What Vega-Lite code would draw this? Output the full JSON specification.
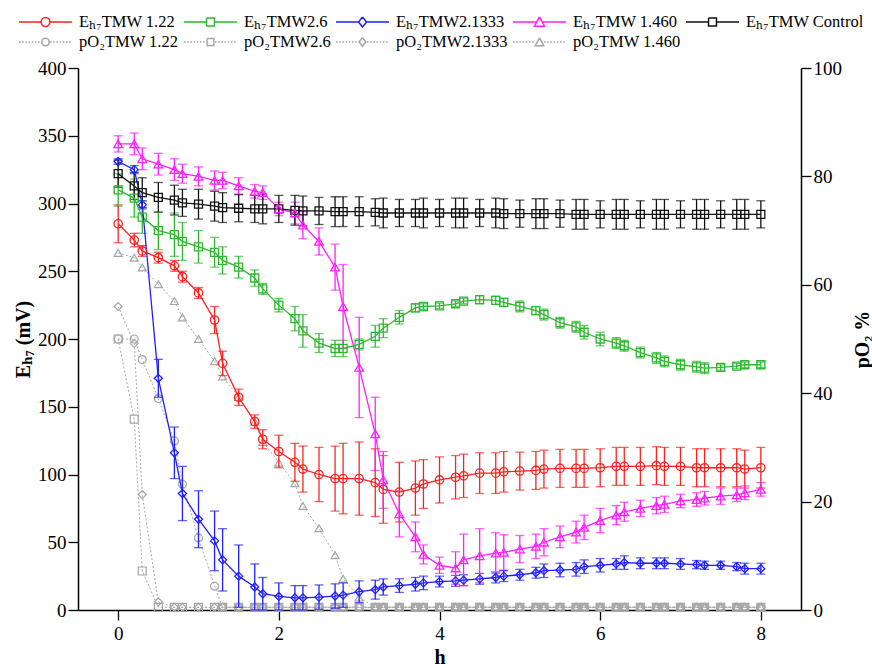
{
  "$schema": "https://vega.github.io/schema/vega-lite/v6.json",
  "width": 723,
  "height": 542,
  "autosize": "none",
  "padding": {"left": 78, "top": 68, "right": 71, "bottom": 58},
  "config": {
    "font": "'Liberation Serif', 'Times New Roman', 'Noto Serif', 'DejaVu Serif', serif",
    "view": {"stroke": null},
    "axis": {
      "labelFont": "'Liberation Serif', 'Times New Roman', 'Noto Serif', 'DejaVu Serif', serif", "labelFontSize": 19, "labelColor": "#000",
      "titleFont": "'Liberation Serif', 'Times New Roman', 'Noto Serif', 'DejaVu Serif', serif", "titleFontSize": 20, "titleFontWeight": "bold", "titleColor": "#000",
      "domainColor": "#000", "domainWidth": 1.5, "tickColor": "#000", "tickWidth": 1.3, "tickSize": 10,
      "labelPadding": 2, "grid": false
    },
    "legend": {
      "labelFont": "'Liberation Serif', 'Times New Roman', 'Noto Serif', 'DejaVu Serif', serif"
    }
  },
  "datasets": {
    "eh": [
      {"s":"Eₕ₇TMW 1.22","t":0,"v":285,"e":14},{"s":"Eₕ₇TMW 1.22","t":0.2,"v":273,"e":5},{"s":"Eₕ₇TMW 1.22","t":0.3,"v":265,"e":4},{"s":"Eₕ₇TMW 1.22","t":0.5,"v":260,"e":4},{"s":"Eₕ₇TMW 1.22","t":0.7,"v":254,"e":4},{"s":"Eₕ₇TMW 1.22","t":0.8,"v":246,"e":4},{"s":"Eₕ₇TMW 1.22","t":1,"v":234,"e":4},{"s":"Eₕ₇TMW 1.22","t":1.2,"v":214,"e":10},{"s":"Eₕ₇TMW 1.22","t":1.3,"v":182,"e":9},{"s":"Eₕ₇TMW 1.22","t":1.5,"v":157,"e":6},{"s":"Eₕ₇TMW 1.22","t":1.7,"v":139,"e":5},{"s":"Eₕ₇TMW 1.22","t":1.8,"v":126,"e":7},{"s":"Eₕ₇TMW 1.22","t":2,"v":117,"e":12},{"s":"Eₕ₇TMW 1.22","t":2.2,"v":109,"e":14},{"s":"Eₕ₇TMW 1.22","t":2.3,"v":104,"e":17},{"s":"Eₕ₇TMW 1.22","t":2.5,"v":100,"e":20},{"s":"Eₕ₇TMW 1.22","t":2.7,"v":97,"e":24},{"s":"Eₕ₇TMW 1.22","t":2.8,"v":97,"e":26},{"s":"Eₕ₇TMW 1.22","t":3,"v":97,"e":27},{"s":"Eₕ₇TMW 1.22","t":3.2,"v":94,"e":25},{"s":"Eₕ₇TMW 1.22","t":3.3,"v":89,"e":25},{"s":"Eₕ₇TMW 1.22","t":3.5,"v":87,"e":22},{"s":"Eₕ₇TMW 1.22","t":3.7,"v":90,"e":20},{"s":"Eₕ₇TMW 1.22","t":3.8,"v":93,"e":18},{"s":"Eₕ₇TMW 1.22","t":4,"v":96,"e":17},{"s":"Eₕ₇TMW 1.22","t":4.2,"v":98,"e":16},{"s":"Eₕ₇TMW 1.22","t":4.3,"v":99,"e":16},{"s":"Eₕ₇TMW 1.22","t":4.5,"v":101,"e":15},{"s":"Eₕ₇TMW 1.22","t":4.7,"v":101,"e":15},{"s":"Eₕ₇TMW 1.22","t":4.8,"v":102,"e":15},{"s":"Eₕ₇TMW 1.22","t":5,"v":102.5,"e":14},{"s":"Eₕ₇TMW 1.22","t":5.2,"v":103,"e":14},{"s":"Eₕ₇TMW 1.22","t":5.3,"v":104,"e":14},{"s":"Eₕ₇TMW 1.22","t":5.5,"v":104.5,"e":14},{"s":"Eₕ₇TMW 1.22","t":5.7,"v":104.5,"e":14},{"s":"Eₕ₇TMW 1.22","t":5.8,"v":104.5,"e":14},{"s":"Eₕ₇TMW 1.22","t":6,"v":105,"e":14},{"s":"Eₕ₇TMW 1.22","t":6.2,"v":106,"e":14},{"s":"Eₕ₇TMW 1.22","t":6.3,"v":106,"e":14},{"s":"Eₕ₇TMW 1.22","t":6.5,"v":106,"e":14},{"s":"Eₕ₇TMW 1.22","t":6.7,"v":106.5,"e":14},{"s":"Eₕ₇TMW 1.22","t":6.8,"v":106,"e":14},{"s":"Eₕ₇TMW 1.22","t":7,"v":106,"e":14},{"s":"Eₕ₇TMW 1.22","t":7.2,"v":105,"e":14},{"s":"Eₕ₇TMW 1.22","t":7.3,"v":105,"e":14},{"s":"Eₕ₇TMW 1.22","t":7.5,"v":105,"e":14},{"s":"Eₕ₇TMW 1.22","t":7.7,"v":105,"e":14},{"s":"Eₕ₇TMW 1.22","t":7.8,"v":104,"e":14},{"s":"Eₕ₇TMW 1.22","t":8,"v":105,"e":15},
      {"s":"Eₕ₇TMW2.6","t":0,"v":310,"e":12},{"s":"Eₕ₇TMW2.6","t":0.2,"v":304,"e":14},{"s":"Eₕ₇TMW2.6","t":0.3,"v":290,"e":12},{"s":"Eₕ₇TMW2.6","t":0.5,"v":280,"e":14},{"s":"Eₕ₇TMW2.6","t":0.7,"v":277,"e":16},{"s":"Eₕ₇TMW2.6","t":0.8,"v":272,"e":14},{"s":"Eₕ₇TMW2.6","t":1,"v":268,"e":12},{"s":"Eₕ₇TMW2.6","t":1.2,"v":264,"e":11},{"s":"Eₕ₇TMW2.6","t":1.3,"v":258,"e":10},{"s":"Eₕ₇TMW2.6","t":1.5,"v":253,"e":8},{"s":"Eₕ₇TMW2.6","t":1.7,"v":245,"e":6},{"s":"Eₕ₇TMW2.6","t":1.8,"v":237,"e":4},{"s":"Eₕ₇TMW2.6","t":2,"v":225,"e":5},{"s":"Eₕ₇TMW2.6","t":2.2,"v":215,"e":9},{"s":"Eₕ₇TMW2.6","t":2.3,"v":206,"e":12},{"s":"Eₕ₇TMW2.6","t":2.5,"v":197,"e":7},{"s":"Eₕ₇TMW2.6","t":2.7,"v":193,"e":6},{"s":"Eₕ₇TMW2.6","t":2.8,"v":193,"e":6},{"s":"Eₕ₇TMW2.6","t":3,"v":196,"e":4},{"s":"Eₕ₇TMW2.6","t":3.2,"v":202,"e":8},{"s":"Eₕ₇TMW2.6","t":3.3,"v":208,"e":7},{"s":"Eₕ₇TMW2.6","t":3.5,"v":216,"e":5},{"s":"Eₕ₇TMW2.6","t":3.7,"v":223,"e":3},{"s":"Eₕ₇TMW2.6","t":3.8,"v":224,"e":2},{"s":"Eₕ₇TMW2.6","t":4,"v":224.5,"e":2},{"s":"Eₕ₇TMW2.6","t":4.2,"v":226,"e":2},{"s":"Eₕ₇TMW2.6","t":4.3,"v":228,"e":2},{"s":"Eₕ₇TMW2.6","t":4.5,"v":229,"e":3},{"s":"Eₕ₇TMW2.6","t":4.7,"v":228.5,"e":3},{"s":"Eₕ₇TMW2.6","t":4.8,"v":227,"e":3},{"s":"Eₕ₇TMW2.6","t":5,"v":224,"e":4},{"s":"Eₕ₇TMW2.6","t":5.2,"v":221,"e":3},{"s":"Eₕ₇TMW2.6","t":5.3,"v":218,"e":4},{"s":"Eₕ₇TMW2.6","t":5.5,"v":212,"e":4},{"s":"Eₕ₇TMW2.6","t":5.7,"v":209,"e":4},{"s":"Eₕ₇TMW2.6","t":5.8,"v":205,"e":5},{"s":"Eₕ₇TMW2.6","t":6,"v":200,"e":5},{"s":"Eₕ₇TMW2.6","t":6.2,"v":197,"e":4},{"s":"Eₕ₇TMW2.6","t":6.3,"v":195,"e":4},{"s":"Eₕ₇TMW2.6","t":6.5,"v":190,"e":4},{"s":"Eₕ₇TMW2.6","t":6.7,"v":186,"e":4},{"s":"Eₕ₇TMW2.6","t":6.8,"v":183.5,"e":4},{"s":"Eₕ₇TMW2.6","t":7,"v":181,"e":4},{"s":"Eₕ₇TMW2.6","t":7.2,"v":179.5,"e":4},{"s":"Eₕ₇TMW2.6","t":7.3,"v":178.5,"e":4},{"s":"Eₕ₇TMW2.6","t":7.5,"v":179,"e":2},{"s":"Eₕ₇TMW2.6","t":7.7,"v":180,"e":2},{"s":"Eₕ₇TMW2.6","t":7.8,"v":181,"e":2},{"s":"Eₕ₇TMW2.6","t":8,"v":181,"e":2},
      {"s":"Eₕ₇TMW2.1333","t":0,"v":331,"e":2},{"s":"Eₕ₇TMW2.1333","t":0.2,"v":325,"e":3},{"s":"Eₕ₇TMW2.1333","t":0.3,"v":299,"e":3},{"s":"Eₕ₇TMW2.1333","t":0.5,"v":171,"e":14},{"s":"Eₕ₇TMW2.1333","t":0.7,"v":116,"e":19},{"s":"Eₕ₇TMW2.1333","t":0.8,"v":86,"e":20},{"s":"Eₕ₇TMW2.1333","t":1,"v":67,"e":21},{"s":"Eₕ₇TMW2.1333","t":1.2,"v":51,"e":22},{"s":"Eₕ₇TMW2.1333","t":1.3,"v":37,"e":23},{"s":"Eₕ₇TMW2.1333","t":1.5,"v":25,"e":23},{"s":"Eₕ₇TMW2.1333","t":1.7,"v":17,"e":17},{"s":"Eₕ₇TMW2.1333","t":1.8,"v":12,"e":12},{"s":"Eₕ₇TMW2.1333","t":2,"v":10,"e":10},{"s":"Eₕ₇TMW2.1333","t":2.2,"v":9,"e":9},{"s":"Eₕ₇TMW2.1333","t":2.3,"v":9,"e":9},{"s":"Eₕ₇TMW2.1333","t":2.5,"v":9.5,"e":9},{"s":"Eₕ₇TMW2.1333","t":2.7,"v":10.3,"e":9},{"s":"Eₕ₇TMW2.1333","t":2.8,"v":11,"e":9},{"s":"Eₕ₇TMW2.1333","t":3,"v":13.5,"e":8},{"s":"Eₕ₇TMW2.1333","t":3.2,"v":15,"e":7},{"s":"Eₕ₇TMW2.1333","t":3.3,"v":17,"e":6},{"s":"Eₕ₇TMW2.1333","t":3.5,"v":18,"e":5},{"s":"Eₕ₇TMW2.1333","t":3.7,"v":19,"e":5},{"s":"Eₕ₇TMW2.1333","t":3.8,"v":20,"e":5},{"s":"Eₕ₇TMW2.1333","t":4,"v":21,"e":4},{"s":"Eₕ₇TMW2.1333","t":4.2,"v":21.5,"e":4},{"s":"Eₕ₇TMW2.1333","t":4.3,"v":22,"e":4},{"s":"Eₕ₇TMW2.1333","t":4.5,"v":23,"e":4},{"s":"Eₕ₇TMW2.1333","t":4.7,"v":24,"e":4},{"s":"Eₕ₇TMW2.1333","t":4.8,"v":25,"e":4},{"s":"Eₕ₇TMW2.1333","t":5,"v":26,"e":4},{"s":"Eₕ₇TMW2.1333","t":5.2,"v":27.5,"e":4},{"s":"Eₕ₇TMW2.1333","t":5.3,"v":29,"e":5},{"s":"Eₕ₇TMW2.1333","t":5.5,"v":29.5,"e":5},{"s":"Eₕ₇TMW2.1333","t":5.7,"v":30,"e":5},{"s":"Eₕ₇TMW2.1333","t":5.8,"v":32,"e":5},{"s":"Eₕ₇TMW2.1333","t":6,"v":33,"e":5},{"s":"Eₕ₇TMW2.1333","t":6.2,"v":34,"e":4},{"s":"Eₕ₇TMW2.1333","t":6.3,"v":35,"e":5},{"s":"Eₕ₇TMW2.1333","t":6.5,"v":34.5,"e":4},{"s":"Eₕ₇TMW2.1333","t":6.7,"v":34.5,"e":4},{"s":"Eₕ₇TMW2.1333","t":6.8,"v":34.5,"e":4},{"s":"Eₕ₇TMW2.1333","t":7,"v":34,"e":4},{"s":"Eₕ₇TMW2.1333","t":7.2,"v":33.5,"e":3},{"s":"Eₕ₇TMW2.1333","t":7.3,"v":33,"e":3},{"s":"Eₕ₇TMW2.1333","t":7.5,"v":33,"e":3},{"s":"Eₕ₇TMW2.1333","t":7.7,"v":32,"e":3},{"s":"Eₕ₇TMW2.1333","t":7.8,"v":30.5,"e":4},{"s":"Eₕ₇TMW2.1333","t":8,"v":30.5,"e":4},
      {"s":"Eₕ₇TMW 1.460","t":0,"v":344,"e":6},{"s":"Eₕ₇TMW 1.460","t":0.2,"v":344,"e":8},{"s":"Eₕ₇TMW 1.460","t":0.3,"v":333,"e":8},{"s":"Eₕ₇TMW 1.460","t":0.5,"v":329,"e":8},{"s":"Eₕ₇TMW 1.460","t":0.7,"v":325,"e":8},{"s":"Eₕ₇TMW 1.460","t":0.8,"v":322,"e":7},{"s":"Eₕ₇TMW 1.460","t":1,"v":320,"e":7},{"s":"Eₕ₇TMW 1.460","t":1.2,"v":317,"e":7},{"s":"Eₕ₇TMW 1.460","t":1.3,"v":317,"e":6},{"s":"Eₕ₇TMW 1.460","t":1.5,"v":313,"e":6},{"s":"Eₕ₇TMW 1.460","t":1.7,"v":309,"e":5},{"s":"Eₕ₇TMW 1.460","t":1.8,"v":308,"e":5},{"s":"Eₕ₇TMW 1.460","t":2,"v":296,"e":5},{"s":"Eₕ₇TMW 1.460","t":2.2,"v":293,"e":8},{"s":"Eₕ₇TMW 1.460","t":2.3,"v":284,"e":10},{"s":"Eₕ₇TMW 1.460","t":2.5,"v":272,"e":10},{"s":"Eₕ₇TMW 1.460","t":2.7,"v":253,"e":17},{"s":"Eₕ₇TMW 1.460","t":2.8,"v":224,"e":31},{"s":"Eₕ₇TMW 1.460","t":3,"v":179,"e":37},{"s":"Eₕ₇TMW 1.460","t":3.2,"v":130,"e":27},{"s":"Eₕ₇TMW 1.460","t":3.3,"v":96,"e":21},{"s":"Eₕ₇TMW 1.460","t":3.5,"v":71,"e":17},{"s":"Eₕ₇TMW 1.460","t":3.7,"v":54,"e":11},{"s":"Eₕ₇TMW 1.460","t":3.8,"v":41,"e":7},{"s":"Eₕ₇TMW 1.460","t":4,"v":33,"e":6},{"s":"Eₕ₇TMW 1.460","t":4.2,"v":31,"e":12},{"s":"Eₕ₇TMW 1.460","t":4.3,"v":37,"e":19},{"s":"Eₕ₇TMW 1.460","t":4.5,"v":40,"e":20},{"s":"Eₕ₇TMW 1.460","t":4.7,"v":42,"e":15},{"s":"Eₕ₇TMW 1.460","t":4.8,"v":42.5,"e":13},{"s":"Eₕ₇TMW 1.460","t":5,"v":45,"e":10},{"s":"Eₕ₇TMW 1.460","t":5.2,"v":47,"e":9},{"s":"Eₕ₇TMW 1.460","t":5.3,"v":50,"e":10},{"s":"Eₕ₇TMW 1.460","t":5.5,"v":54,"e":8},{"s":"Eₕ₇TMW 1.460","t":5.7,"v":57.5,"e":8},{"s":"Eₕ₇TMW 1.460","t":5.8,"v":61,"e":9},{"s":"Eₕ₇TMW 1.460","t":6,"v":66,"e":9},{"s":"Eₕ₇TMW 1.460","t":6.2,"v":70,"e":7},{"s":"Eₕ₇TMW 1.460","t":6.3,"v":72.5,"e":7},{"s":"Eₕ₇TMW 1.460","t":6.5,"v":75,"e":6},{"s":"Eₕ₇TMW 1.460","t":6.7,"v":77,"e":6},{"s":"Eₕ₇TMW 1.460","t":6.8,"v":78,"e":6},{"s":"Eₕ₇TMW 1.460","t":7,"v":80.5,"e":5},{"s":"Eₕ₇TMW 1.460","t":7.2,"v":81.5,"e":5},{"s":"Eₕ₇TMW 1.460","t":7.3,"v":82.5,"e":5},{"s":"Eₕ₇TMW 1.460","t":7.5,"v":84,"e":6},{"s":"Eₕ₇TMW 1.460","t":7.7,"v":85,"e":5},{"s":"Eₕ₇TMW 1.460","t":7.8,"v":86.5,"e":5},{"s":"Eₕ₇TMW 1.460","t":8,"v":89,"e":5},
      {"s":"Eₕ₇TMW Control","t":0,"v":322,"e":10},{"s":"Eₕ₇TMW Control","t":0.2,"v":313,"e":10},{"s":"Eₕ₇TMW Control","t":0.3,"v":308,"e":11},{"s":"Eₕ₇TMW Control","t":0.5,"v":304.5,"e":11},{"s":"Eₕ₇TMW Control","t":0.7,"v":302.5,"e":11},{"s":"Eₕ₇TMW Control","t":0.8,"v":300.5,"e":10},{"s":"Eₕ₇TMW Control","t":1,"v":299.5,"e":11},{"s":"Eₕ₇TMW Control","t":1.2,"v":298,"e":11},{"s":"Eₕ₇TMW Control","t":1.3,"v":297,"e":11},{"s":"Eₕ₇TMW Control","t":1.5,"v":296.5,"e":10},{"s":"Eₕ₇TMW Control","t":1.7,"v":296,"e":10},{"s":"Eₕ₇TMW Control","t":1.8,"v":296,"e":11},{"s":"Eₕ₇TMW Control","t":2,"v":296,"e":10},{"s":"Eₕ₇TMW Control","t":2.2,"v":295,"e":11},{"s":"Eₕ₇TMW Control","t":2.3,"v":294.5,"e":11},{"s":"Eₕ₇TMW Control","t":2.5,"v":294.5,"e":10},{"s":"Eₕ₇TMW Control","t":2.7,"v":294,"e":11},{"s":"Eₕ₇TMW Control","t":2.8,"v":294,"e":11},{"s":"Eₕ₇TMW Control","t":3,"v":294,"e":11},{"s":"Eₕ₇TMW Control","t":3.2,"v":293.5,"e":10},{"s":"Eₕ₇TMW Control","t":3.3,"v":293,"e":11},{"s":"Eₕ₇TMW Control","t":3.5,"v":293,"e":10},{"s":"Eₕ₇TMW Control","t":3.7,"v":293,"e":10},{"s":"Eₕ₇TMW Control","t":3.8,"v":293,"e":11},{"s":"Eₕ₇TMW Control","t":4,"v":293,"e":10},{"s":"Eₕ₇TMW Control","t":4.2,"v":293,"e":11},{"s":"Eₕ₇TMW Control","t":4.3,"v":293,"e":11},{"s":"Eₕ₇TMW Control","t":4.5,"v":293,"e":10},{"s":"Eₕ₇TMW Control","t":4.7,"v":293,"e":11},{"s":"Eₕ₇TMW Control","t":4.8,"v":292.5,"e":11},{"s":"Eₕ₇TMW Control","t":5,"v":292.5,"e":10},{"s":"Eₕ₇TMW Control","t":5.2,"v":292.5,"e":11},{"s":"Eₕ₇TMW Control","t":5.3,"v":292.5,"e":11},{"s":"Eₕ₇TMW Control","t":5.5,"v":292.5,"e":10},{"s":"Eₕ₇TMW Control","t":5.7,"v":292,"e":11},{"s":"Eₕ₇TMW Control","t":5.8,"v":292,"e":11},{"s":"Eₕ₇TMW Control","t":6,"v":292,"e":10},{"s":"Eₕ₇TMW Control","t":6.2,"v":292,"e":11},{"s":"Eₕ₇TMW Control","t":6.3,"v":292,"e":11},{"s":"Eₕ₇TMW Control","t":6.5,"v":292,"e":10},{"s":"Eₕ₇TMW Control","t":6.7,"v":292,"e":11},{"s":"Eₕ₇TMW Control","t":6.8,"v":292,"e":11},{"s":"Eₕ₇TMW Control","t":7,"v":292,"e":10},{"s":"Eₕ₇TMW Control","t":7.2,"v":292,"e":11},{"s":"Eₕ₇TMW Control","t":7.3,"v":292,"e":11},{"s":"Eₕ₇TMW Control","t":7.5,"v":292,"e":10},{"s":"Eₕ₇TMW Control","t":7.7,"v":292,"e":11},{"s":"Eₕ₇TMW Control","t":7.8,"v":292,"e":11},{"s":"Eₕ₇TMW Control","t":8,"v":292,"e":10}
    ],
    "po": [
      {"s":"pO₂TMW 1.22","t":0,"p":50},{"s":"pO₂TMW 1.22","t":0.2,"p":50},{"s":"pO₂TMW 1.22","t":0.3,"p":46.2},{"s":"pO₂TMW 1.22","t":0.5,"p":39},{"s":"pO₂TMW 1.22","t":0.7,"p":31.2},{"s":"pO₂TMW 1.22","t":0.8,"p":23.2},{"s":"pO₂TMW 1.22","t":1,"p":13.3},{"s":"pO₂TMW 1.22","t":1.2,"p":4.4},{"s":"pO₂TMW 1.22","t":1.3,"p":0.5},{"s":"pO₂TMW 1.22","t":1.5,"p":0.5},{"s":"pO₂TMW 1.22","t":1.7,"p":0.5},{"s":"pO₂TMW 1.22","t":1.8,"p":0.5},{"s":"pO₂TMW 1.22","t":2,"p":0.5},{"s":"pO₂TMW 1.22","t":2.2,"p":0.5},{"s":"pO₂TMW 1.22","t":2.3,"p":0.5},{"s":"pO₂TMW 1.22","t":2.5,"p":0.5},{"s":"pO₂TMW 1.22","t":2.7,"p":0.5},{"s":"pO₂TMW 1.22","t":2.8,"p":0.5},{"s":"pO₂TMW 1.22","t":3,"p":0.5},{"s":"pO₂TMW 1.22","t":3.2,"p":0.5},{"s":"pO₂TMW 1.22","t":3.3,"p":0.5},{"s":"pO₂TMW 1.22","t":3.5,"p":0.5},{"s":"pO₂TMW 1.22","t":3.7,"p":0.5},{"s":"pO₂TMW 1.22","t":3.8,"p":0.5},{"s":"pO₂TMW 1.22","t":4,"p":0.5},{"s":"pO₂TMW 1.22","t":4.2,"p":0.5},{"s":"pO₂TMW 1.22","t":4.3,"p":0.5},{"s":"pO₂TMW 1.22","t":4.5,"p":0.5},{"s":"pO₂TMW 1.22","t":4.7,"p":0.5},{"s":"pO₂TMW 1.22","t":4.8,"p":0.5},{"s":"pO₂TMW 1.22","t":5,"p":0.5},{"s":"pO₂TMW 1.22","t":5.2,"p":0.5},{"s":"pO₂TMW 1.22","t":5.3,"p":0.5},{"s":"pO₂TMW 1.22","t":5.5,"p":0.5},{"s":"pO₂TMW 1.22","t":5.7,"p":0.5},{"s":"pO₂TMW 1.22","t":5.8,"p":0.5},{"s":"pO₂TMW 1.22","t":6,"p":0.5},{"s":"pO₂TMW 1.22","t":6.2,"p":0.5},{"s":"pO₂TMW 1.22","t":6.3,"p":0.5},{"s":"pO₂TMW 1.22","t":6.5,"p":0.5},{"s":"pO₂TMW 1.22","t":6.7,"p":0.5},{"s":"pO₂TMW 1.22","t":6.8,"p":0.5},{"s":"pO₂TMW 1.22","t":7,"p":0.5},{"s":"pO₂TMW 1.22","t":7.2,"p":0.5},{"s":"pO₂TMW 1.22","t":7.3,"p":0.5},{"s":"pO₂TMW 1.22","t":7.5,"p":0.5},{"s":"pO₂TMW 1.22","t":7.7,"p":0.5},{"s":"pO₂TMW 1.22","t":7.8,"p":0.5},{"s":"pO₂TMW 1.22","t":8,"p":0.5},
      {"s":"pO₂TMW2.6","t":0,"p":50},{"s":"pO₂TMW2.6","t":0.2,"p":35.2},{"s":"pO₂TMW2.6","t":0.3,"p":7.2},{"s":"pO₂TMW2.6","t":0.5,"p":0.5},{"s":"pO₂TMW2.6","t":0.7,"p":0.5},{"s":"pO₂TMW2.6","t":0.8,"p":0.5},{"s":"pO₂TMW2.6","t":1,"p":0.5},{"s":"pO₂TMW2.6","t":1.2,"p":0.5},{"s":"pO₂TMW2.6","t":1.3,"p":0.5},{"s":"pO₂TMW2.6","t":1.5,"p":0.5},{"s":"pO₂TMW2.6","t":1.7,"p":0.5},{"s":"pO₂TMW2.6","t":1.8,"p":0.5},{"s":"pO₂TMW2.6","t":2,"p":0.5},{"s":"pO₂TMW2.6","t":2.2,"p":0.5},{"s":"pO₂TMW2.6","t":2.3,"p":0.5},{"s":"pO₂TMW2.6","t":2.5,"p":0.5},{"s":"pO₂TMW2.6","t":2.7,"p":0.5},{"s":"pO₂TMW2.6","t":2.8,"p":0.5},{"s":"pO₂TMW2.6","t":3,"p":0.5},{"s":"pO₂TMW2.6","t":3.2,"p":0.5},{"s":"pO₂TMW2.6","t":3.3,"p":0.5},{"s":"pO₂TMW2.6","t":3.5,"p":0.5},{"s":"pO₂TMW2.6","t":3.7,"p":0.5},{"s":"pO₂TMW2.6","t":3.8,"p":0.5},{"s":"pO₂TMW2.6","t":4,"p":0.5},{"s":"pO₂TMW2.6","t":4.2,"p":0.5},{"s":"pO₂TMW2.6","t":4.3,"p":0.5},{"s":"pO₂TMW2.6","t":4.5,"p":0.5},{"s":"pO₂TMW2.6","t":4.7,"p":0.5},{"s":"pO₂TMW2.6","t":4.8,"p":0.5},{"s":"pO₂TMW2.6","t":5,"p":0.5},{"s":"pO₂TMW2.6","t":5.2,"p":0.5},{"s":"pO₂TMW2.6","t":5.3,"p":0.5},{"s":"pO₂TMW2.6","t":5.5,"p":0.5},{"s":"pO₂TMW2.6","t":5.7,"p":0.5},{"s":"pO₂TMW2.6","t":5.8,"p":0.5},{"s":"pO₂TMW2.6","t":6,"p":0.5},{"s":"pO₂TMW2.6","t":6.2,"p":0.5},{"s":"pO₂TMW2.6","t":6.3,"p":0.5},{"s":"pO₂TMW2.6","t":6.5,"p":0.5},{"s":"pO₂TMW2.6","t":6.7,"p":0.5},{"s":"pO₂TMW2.6","t":6.8,"p":0.5},{"s":"pO₂TMW2.6","t":7,"p":0.5},{"s":"pO₂TMW2.6","t":7.2,"p":0.5},{"s":"pO₂TMW2.6","t":7.3,"p":0.5},{"s":"pO₂TMW2.6","t":7.5,"p":0.5},{"s":"pO₂TMW2.6","t":7.7,"p":0.5},{"s":"pO₂TMW2.6","t":7.8,"p":0.5},{"s":"pO₂TMW2.6","t":8,"p":0.5},
      {"s":"pO₂TMW2.1333","t":0,"p":56},{"s":"pO₂TMW2.1333","t":0.2,"p":49.2},{"s":"pO₂TMW2.1333","t":0.3,"p":21.3},{"s":"pO₂TMW2.1333","t":0.5,"p":1.5},{"s":"pO₂TMW2.1333","t":0.7,"p":0.5},{"s":"pO₂TMW2.1333","t":0.8,"p":0.5},{"s":"pO₂TMW2.1333","t":1,"p":0.5},{"s":"pO₂TMW2.1333","t":1.2,"p":0.5},{"s":"pO₂TMW2.1333","t":1.3,"p":0.5},{"s":"pO₂TMW2.1333","t":1.5,"p":0.5},{"s":"pO₂TMW2.1333","t":1.7,"p":0.5},{"s":"pO₂TMW2.1333","t":1.8,"p":0.5},{"s":"pO₂TMW2.1333","t":2,"p":0.5},{"s":"pO₂TMW2.1333","t":2.2,"p":0.5},{"s":"pO₂TMW2.1333","t":2.3,"p":0.5},{"s":"pO₂TMW2.1333","t":2.5,"p":0.5},{"s":"pO₂TMW2.1333","t":2.7,"p":0.5},{"s":"pO₂TMW2.1333","t":2.8,"p":0.5},{"s":"pO₂TMW2.1333","t":3,"p":0.5},{"s":"pO₂TMW2.1333","t":3.2,"p":0.5},{"s":"pO₂TMW2.1333","t":3.3,"p":0.5},{"s":"pO₂TMW2.1333","t":3.5,"p":0.5},{"s":"pO₂TMW2.1333","t":3.7,"p":0.5},{"s":"pO₂TMW2.1333","t":3.8,"p":0.5},{"s":"pO₂TMW2.1333","t":4,"p":0.5},{"s":"pO₂TMW2.1333","t":4.2,"p":0.5},{"s":"pO₂TMW2.1333","t":4.3,"p":0.5},{"s":"pO₂TMW2.1333","t":4.5,"p":0.5},{"s":"pO₂TMW2.1333","t":4.7,"p":0.5},{"s":"pO₂TMW2.1333","t":4.8,"p":0.5},{"s":"pO₂TMW2.1333","t":5,"p":0.5},{"s":"pO₂TMW2.1333","t":5.2,"p":0.5},{"s":"pO₂TMW2.1333","t":5.3,"p":0.5},{"s":"pO₂TMW2.1333","t":5.5,"p":0.5},{"s":"pO₂TMW2.1333","t":5.7,"p":0.5},{"s":"pO₂TMW2.1333","t":5.8,"p":0.5},{"s":"pO₂TMW2.1333","t":6,"p":0.5},{"s":"pO₂TMW2.1333","t":6.2,"p":0.5},{"s":"pO₂TMW2.1333","t":6.3,"p":0.5},{"s":"pO₂TMW2.1333","t":6.5,"p":0.5},{"s":"pO₂TMW2.1333","t":6.7,"p":0.5},{"s":"pO₂TMW2.1333","t":6.8,"p":0.5},{"s":"pO₂TMW2.1333","t":7,"p":0.5},{"s":"pO₂TMW2.1333","t":7.2,"p":0.5},{"s":"pO₂TMW2.1333","t":7.3,"p":0.5},{"s":"pO₂TMW2.1333","t":7.5,"p":0.5},{"s":"pO₂TMW2.1333","t":7.7,"p":0.5},{"s":"pO₂TMW2.1333","t":7.8,"p":0.5},{"s":"pO₂TMW2.1333","t":8,"p":0.5},
      {"s":"pO₂TMW 1.460","t":0,"p":65.9},{"s":"pO₂TMW 1.460","t":0.2,"p":65},{"s":"pO₂TMW 1.460","t":0.3,"p":63.2},{"s":"pO₂TMW 1.460","t":0.5,"p":60.1},{"s":"pO₂TMW 1.460","t":0.7,"p":57},{"s":"pO₂TMW 1.460","t":0.8,"p":54},{"s":"pO₂TMW 1.460","t":1,"p":50},{"s":"pO₂TMW 1.460","t":1.2,"p":45.9},{"s":"pO₂TMW 1.460","t":1.3,"p":43.1},{"s":"pO₂TMW 1.460","t":1.5,"p":39.3},{"s":"pO₂TMW 1.460","t":1.7,"p":34.7},{"s":"pO₂TMW 1.460","t":1.8,"p":31},{"s":"pO₂TMW 1.460","t":2,"p":27.2},{"s":"pO₂TMW 1.460","t":2.2,"p":23.4},{"s":"pO₂TMW 1.460","t":2.3,"p":19.2},{"s":"pO₂TMW 1.460","t":2.5,"p":15.1},{"s":"pO₂TMW 1.460","t":2.7,"p":10.1},{"s":"pO₂TMW 1.460","t":2.8,"p":5.8},{"s":"pO₂TMW 1.460","t":3,"p":2.3},{"s":"pO₂TMW 1.460","t":3.2,"p":0.5},{"s":"pO₂TMW 1.460","t":3.3,"p":0.5},{"s":"pO₂TMW 1.460","t":3.5,"p":0.5},{"s":"pO₂TMW 1.460","t":3.7,"p":0.5},{"s":"pO₂TMW 1.460","t":3.8,"p":0.5},{"s":"pO₂TMW 1.460","t":4,"p":0.5},{"s":"pO₂TMW 1.460","t":4.2,"p":0.5},{"s":"pO₂TMW 1.460","t":4.3,"p":0.5},{"s":"pO₂TMW 1.460","t":4.5,"p":0.5},{"s":"pO₂TMW 1.460","t":4.7,"p":0.5},{"s":"pO₂TMW 1.460","t":4.8,"p":0.5},{"s":"pO₂TMW 1.460","t":5,"p":0.5},{"s":"pO₂TMW 1.460","t":5.2,"p":0.5},{"s":"pO₂TMW 1.460","t":5.3,"p":0.5},{"s":"pO₂TMW 1.460","t":5.5,"p":0.5},{"s":"pO₂TMW 1.460","t":5.7,"p":0.5},{"s":"pO₂TMW 1.460","t":5.8,"p":0.5},{"s":"pO₂TMW 1.460","t":6,"p":0.5},{"s":"pO₂TMW 1.460","t":6.2,"p":0.5},{"s":"pO₂TMW 1.460","t":6.3,"p":0.5},{"s":"pO₂TMW 1.460","t":6.5,"p":0.5},{"s":"pO₂TMW 1.460","t":6.7,"p":0.5},{"s":"pO₂TMW 1.460","t":6.8,"p":0.5},{"s":"pO₂TMW 1.460","t":7,"p":0.5},{"s":"pO₂TMW 1.460","t":7.2,"p":0.5},{"s":"pO₂TMW 1.460","t":7.3,"p":0.5},{"s":"pO₂TMW 1.460","t":7.5,"p":0.5},{"s":"pO₂TMW 1.460","t":7.7,"p":0.5},{"s":"pO₂TMW 1.460","t":7.8,"p":0.5},{"s":"pO₂TMW 1.460","t":8,"p":0.5}
    ]
  },
  "layer": [
    {
      "data": {"name": "po"},
      "encoding": {
        "x": {"field": "t", "type": "quantitative", "scale": {"domain": [-0.5, 8.5], "nice": false}, "axis": {"values": [0, 2, 4, 6, 8], "title": "h", "labelPadding": 4, "titlePadding": 4}},
        "y": {"field": "p", "type": "quantitative", "scale": {"domain": [0, 100], "nice": false}, "axis": {"orient": "right", "values": [0, 20, 40, 60, 80, 100], "title": "pO₂ %", "titleAngle": 270, "labelPadding": 2, "titlePadding": 31}},
        "color": {
          "field": "s", "type": "nominal",
          "scale": {"domain": ["Eₕ₇TMW 1.22", "Eₕ₇TMW2.6", "Eₕ₇TMW2.1333", "Eₕ₇TMW 1.460", "Eₕ₇TMW Control", "pO₂TMW 1.22", "pO₂TMW2.6", "pO₂TMW2.1333", "pO₂TMW 1.460"], "range": ["#ff1f1f", "#2eb82e", "#1f1fff", "#ff1fff", "#111111", "#a6a6a6", "#a6a6a6", "#a6a6a6", "#a6a6a6"]},
          "legend": {
            "orient": "none", "legendX": -60, "legendY": -54, "direction": "horizontal", "columns": 5, "gridAlign": "none", "title": null,
            "labelFontSize": 16.5, "labelColor": "#000", "labelLimit": 0,
            "symbolSize": 2809, "symbolOffset": 0, "labelOffset": 6, "columnPadding": 4, "rowPadding": 3, "padding": 0, "clipHeight": 16,
            "symbolFillColor": "transparent", "symbolStrokeWidth": 1.5, "symbolOpacity": 1,
            "symbolType": {"expr": "['M-1,0H-0.166M0.166,0H1M-0.166,0A0.166,0.166,0,1,0,0.166,0A0.166,0.166,0,1,0,-0.166,0A0.166,0.166,0,1,1,0.166,0A0.166,0.166,0,1,1,-0.166,0','M-1,0H-0.15M0.15,0H1M-0.15,-0.15H0.15V0.15H-0.15V-0.15V0.15H0.15V-0.15H-0.15','M-1,0H-0.15M0.15,0H1M0,-0.19L0.15,0L0,0.19L-0.15,0L0,-0.19L-0.15,0L0,0.19L0.15,0L0,-0.19','M-1,0H-0.1M0.1,0H1M0,-0.19L0.19,0.16L-0.19,0.16L0,-0.19L-0.19,0.16L0.19,0.16L0,-0.19','M-1,0H-0.15M0.15,0H1M-0.15,-0.15H0.15V0.15H-0.15V-0.15V0.15H0.15V-0.15H-0.15','M-1,0h0.06m0.06,0h0.06m0.06,0h0.06m0.06,0h0.06m0.06,0h0.06m0.06,0h0.06m0.06,0h0.06M0.17,0h0.06m0.06,0h0.06m0.06,0h0.06m0.06,0h0.06m0.06,0h0.06m0.06,0h0.06m0.06,0h0.06M-0.14,0A0.14,0.14,0,1,0,0.14,0A0.14,0.14,0,1,0,-0.14,0A0.14,0.14,0,1,1,0.14,0A0.14,0.14,0,1,1,-0.14,0','M-1,0h0.06m0.06,0h0.06m0.06,0h0.06m0.06,0h0.06m0.06,0h0.06m0.06,0h0.06m0.06,0h0.06M0.17,0h0.06m0.06,0h0.06m0.06,0h0.06m0.06,0h0.06m0.06,0h0.06m0.06,0h0.06m0.06,0h0.06M-0.13,-0.13H0.13V0.13H-0.13V-0.13V0.13H0.13V-0.13H-0.13','M-1,0h0.06m0.06,0h0.06m0.06,0h0.06m0.06,0h0.06m0.06,0h0.06m0.06,0h0.06m0.06,0h0.06M0.17,0h0.06m0.06,0h0.06m0.06,0h0.06m0.06,0h0.06m0.06,0h0.06m0.06,0h0.06m0.06,0h0.06M0,-0.16L0.13,0L0,0.16L-0.13,0L0,-0.16L-0.13,0L0,0.16L0.13,0L0,-0.16','M-1,0h0.06m0.06,0h0.06m0.06,0h0.06m0.06,0h0.06m0.06,0h0.06m0.06,0h0.06m0.06,0h0.06M0.17,0h0.06m0.06,0h0.06m0.06,0h0.06m0.06,0h0.06m0.06,0h0.06m0.06,0h0.06m0.06,0h0.06M0,-0.16L0.16,0.14L-0.16,0.14L0,-0.16L-0.16,0.14L0.16,0.14L0,-0.16'][datum.index]"}
          }
        }
      },
      "layer": [
        {"mark": {"type": "line", "strokeWidth": 1, "strokeDash": [2, 2]}, "encoding": {}},
        {"transform": [{"filter": {"field": "s", "equal": "pO₂TMW 1.22"}}], "mark": {"type": "point", "shape": "circle", "filled": false, "size": 64, "strokeWidth": 1.2, "opacity": 1}},
        {"transform": [{"filter": {"field": "s", "equal": "pO₂TMW2.6"}}], "mark": {"type": "point", "shape": "square", "filled": false, "size": 64, "strokeWidth": 1.2, "opacity": 1}},
        {"transform": [{"filter": {"field": "s", "equal": "pO₂TMW2.1333"}}], "mark": {"type": "point", "shape": "diamond", "filled": false, "size": 64, "strokeWidth": 1.2, "opacity": 1}},
        {"transform": [{"filter": {"field": "s", "equal": "pO₂TMW 1.460"}}], "mark": {"type": "point", "shape": "triangle-up", "filled": false, "size": 64, "strokeWidth": 1.2, "opacity": 1}}
      ]
    },
    {
      "data": {"name": "eh"},
      "encoding": {
        "x": {"field": "t", "type": "quantitative", "scale": {"domain": [-0.5, 8.5], "nice": false}, "axis": {"values": [0, 2, 4, 6, 8], "title": "h", "labelPadding": 4, "titlePadding": 4}},
        "y": {"field": "v", "type": "quantitative", "scale": {"domain": [0, 400], "nice": false}, "axis": {"orient": "left", "values": [0, 50, 100, 150, 200, 250, 300, 350, 400], "title": "Eₕ₇ (mV)", "labelPadding": 2}},
        "color": {
          "field": "s", "type": "nominal",
          "scale": {"domain": ["Eₕ₇TMW 1.22", "Eₕ₇TMW2.6", "Eₕ₇TMW2.1333", "Eₕ₇TMW 1.460", "Eₕ₇TMW Control", "pO₂TMW 1.22", "pO₂TMW2.6", "pO₂TMW2.1333", "pO₂TMW 1.460"], "range": ["#ff1f1f", "#2eb82e", "#1f1fff", "#ff1fff", "#111111", "#a6a6a6", "#a6a6a6", "#a6a6a6", "#a6a6a6"]},
          "legend": {
            "orient": "none", "legendX": -60, "legendY": -54, "direction": "horizontal", "columns": 5, "gridAlign": "none", "title": null,
            "labelFontSize": 16.5, "labelColor": "#000", "labelLimit": 0,
            "symbolSize": 2809, "symbolOffset": 0, "labelOffset": 6, "columnPadding": 4, "rowPadding": 3, "padding": 0, "clipHeight": 16,
            "symbolFillColor": "transparent", "symbolStrokeWidth": 1.5, "symbolOpacity": 1,
            "symbolType": {"expr": "['M-1,0H-0.166M0.166,0H1M-0.166,0A0.166,0.166,0,1,0,0.166,0A0.166,0.166,0,1,0,-0.166,0A0.166,0.166,0,1,1,0.166,0A0.166,0.166,0,1,1,-0.166,0','M-1,0H-0.15M0.15,0H1M-0.15,-0.15H0.15V0.15H-0.15V-0.15V0.15H0.15V-0.15H-0.15','M-1,0H-0.15M0.15,0H1M0,-0.19L0.15,0L0,0.19L-0.15,0L0,-0.19L-0.15,0L0,0.19L0.15,0L0,-0.19','M-1,0H-0.1M0.1,0H1M0,-0.19L0.19,0.16L-0.19,0.16L0,-0.19L-0.19,0.16L0.19,0.16L0,-0.19','M-1,0H-0.15M0.15,0H1M-0.15,-0.15H0.15V0.15H-0.15V-0.15V0.15H0.15V-0.15H-0.15','M-1,0h0.06m0.06,0h0.06m0.06,0h0.06m0.06,0h0.06m0.06,0h0.06m0.06,0h0.06m0.06,0h0.06M0.17,0h0.06m0.06,0h0.06m0.06,0h0.06m0.06,0h0.06m0.06,0h0.06m0.06,0h0.06m0.06,0h0.06M-0.14,0A0.14,0.14,0,1,0,0.14,0A0.14,0.14,0,1,0,-0.14,0A0.14,0.14,0,1,1,0.14,0A0.14,0.14,0,1,1,-0.14,0','M-1,0h0.06m0.06,0h0.06m0.06,0h0.06m0.06,0h0.06m0.06,0h0.06m0.06,0h0.06m0.06,0h0.06M0.17,0h0.06m0.06,0h0.06m0.06,0h0.06m0.06,0h0.06m0.06,0h0.06m0.06,0h0.06m0.06,0h0.06M-0.13,-0.13H0.13V0.13H-0.13V-0.13V0.13H0.13V-0.13H-0.13','M-1,0h0.06m0.06,0h0.06m0.06,0h0.06m0.06,0h0.06m0.06,0h0.06m0.06,0h0.06m0.06,0h0.06M0.17,0h0.06m0.06,0h0.06m0.06,0h0.06m0.06,0h0.06m0.06,0h0.06m0.06,0h0.06m0.06,0h0.06M0,-0.16L0.13,0L0,0.16L-0.13,0L0,-0.16L-0.13,0L0,0.16L0.13,0L0,-0.16','M-1,0h0.06m0.06,0h0.06m0.06,0h0.06m0.06,0h0.06m0.06,0h0.06m0.06,0h0.06m0.06,0h0.06M0.17,0h0.06m0.06,0h0.06m0.06,0h0.06m0.06,0h0.06m0.06,0h0.06m0.06,0h0.06m0.06,0h0.06M0,-0.16L0.16,0.14L-0.16,0.14L0,-0.16L-0.16,0.14L0.16,0.14L0,-0.16'][datum.index]"}
          }
        }
      },
      "layer": [
        {"mark": {"type": "errorbar", "ticks": {"size": 9}, "thickness": 1.3}, "encoding": {"yError": {"field": "e"}, "color": {"field": "s", "type": "nominal", "legend": null}}},
        {"mark": {"type": "line", "strokeWidth": 1.3}, "encoding": {}},
        {"transform": [{"filter": {"field": "s", "equal": "Eₕ₇TMW 1.22"}}], "mark": {"type": "point", "shape": "circle", "filled": false, "size": 70, "strokeWidth": 1.3, "opacity": 1}},
        {"transform": [{"filter": {"field": "s", "oneOf": ["Eₕ₇TMW2.6", "Eₕ₇TMW Control"]}}], "mark": {"type": "point", "shape": "square", "filled": false, "size": 64, "strokeWidth": 1.3, "opacity": 1}},
        {"transform": [{"filter": {"field": "s", "equal": "Eₕ₇TMW2.1333"}}], "mark": {"type": "point", "shape": "diamond", "filled": false, "size": 64, "strokeWidth": 1.3, "opacity": 1}},
        {"transform": [{"filter": {"field": "s", "equal": "Eₕ₇TMW 1.460"}}], "mark": {"type": "point", "shape": "triangle-up", "filled": false, "size": 75, "strokeWidth": 1.3, "opacity": 1}}
      ]
    }
  ],
  "resolve": {"scale": {"y": "independent"}}
}
